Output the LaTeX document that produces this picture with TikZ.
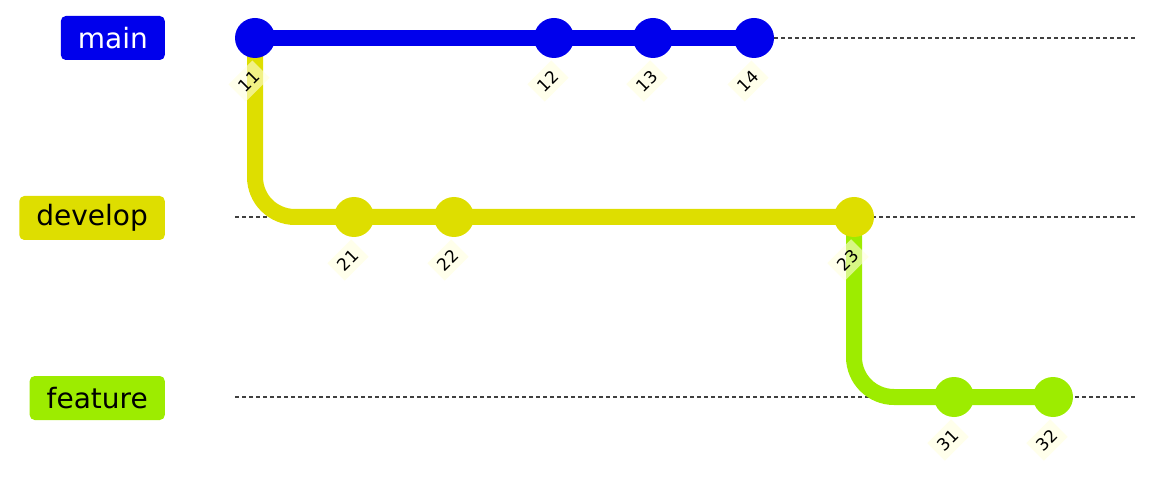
\documentclass[tikz,border=0pt]{standalone}
\usepackage{fontspec}
\setmainfont{DejaVu Sans}
\definecolor{gitblue}{HTML}{0000EC}
\definecolor{gityellow}{HTML}{DEDE00}
\definecolor{gitgreen}{HTML}{9DEC00}
\definecolor{tagbg}{HTML}{FFFFDE}
\tikzset{
	branchbox/.style={rounded corners=5pt,inner xsep=17pt,minimum height=44pt,anchor=east,font=\fontsize{28}{30}\selectfont},
	commit/.style={circle,minimum size=40pt,inner sep=0pt},
	tag/.style={rotate=45,fill=tagbg,fill opacity=0.6,text opacity=1,inner sep=6pt,font=\fontsize{17}{19}\selectfont},
	lane/.style={dashed,dash pattern=on 4pt off 3pt,line width=1.3pt,black!75},
	track/.style={line width=16pt,rounded corners=40pt}
}
\begin{document}
\begin{tikzpicture}[x=1pt,y=-1pt]
	\useasboundingbox (0,0) rectangle (1150,478);
		% branch names
		\node[branchbox,fill=gitblue,text=white] (main) at (165,38) {main};
		\node[branchbox,fill=gityellow] (develop) at (165,218) {develop};
		\node[branchbox,fill=gitgreen] (feature) at (165,398) {feature};
		
		\draw[lane] (235,38) -- (1135,38);
		\draw[lane] (235,217) -- (1135,217);
		\draw[lane] (235,397) -- (1135,397);
		
		\coordinate (p11) at (255,38);
		\coordinate (p12) at (554,38);
		\coordinate (p13) at (653,38);
		\coordinate (p14) at (754,38);
		\coordinate (p21) at (354,217);
		\coordinate (p22) at (454,217);
		\coordinate (p23) at (854,217);
		\coordinate (p31) at (954,397);
		\coordinate (p32) at (1053,397);
		
		\draw[track,gityellow] (p11) |- (p21) -- (p22) -- (p23);
		\draw[track,gitgreen] (p23) |- (p31) -- (p32);
		\draw[track,gitblue] (p11) -- (p14);
		
		% commits
		\foreach \c in {11,12,13,14}
			\node[commit,fill=gitblue] (c\c) at (p\c) {};
		\foreach \c in {21,22,23}
			\node[commit,fill=gityellow] (c\c) at (p\c) {};
		\foreach \c in {31,32}
			\node[commit,fill=gitgreen] (c\c) at (p\c) {};
		
		\foreach \c in {11,12,13,14,21,22,23,31,32}
			\node[tag] (t\c) at ([shift={(-6,43)}]c\c) {\c};
	\end{tikzpicture}
\end{document}
